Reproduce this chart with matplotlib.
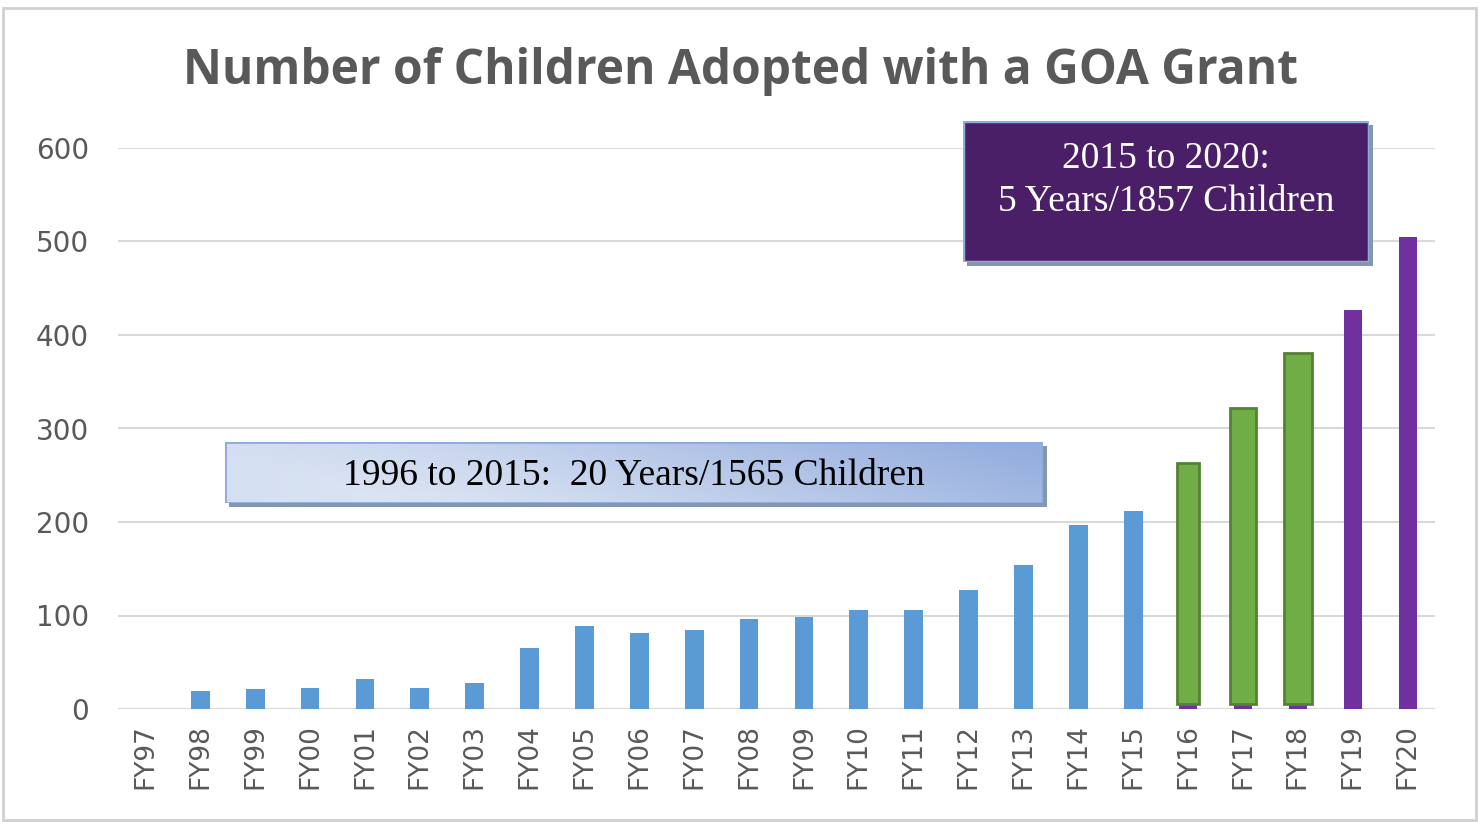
import matplotlib
matplotlib.use("Agg")
import matplotlib.pyplot as plt
import numpy as np
from matplotlib.patches import Rectangle

categories = ["FY97", "FY98", "FY99", "FY00", "FY01", "FY02", "FY03", "FY04",
              "FY05", "FY06", "FY07", "FY08", "FY09", "FY10", "FY11", "FY12",
              "FY13", "FY14", "FY15", "FY16", "FY17", "FY18", "FY19", "FY20"]
blue_values = [0, 19, 21, 22, 32, 22, 28, 65, 89, 81, 84, 96, 98, 106, 106,
               127, 154, 197, 212]
purple_values = [263, 322, 381, 427, 505]
green_values = [263, 322, 381]
green_base = 5
yticks = [0, 100, 200, 300, 400, 500, 600]
title = "Number of Children Adopted with a GOA Grant"
box1_text = "1996 to 2015:  20 Years/1565 Children"
box2_text = "2015 to 2020:\n5 Years/1857 Children"

W, H = 1479, 822
fig = plt.figure(figsize=(W / 100, H / 100), dpi=100)
fig.patch.set_facecolor("white")

# outer border
fig.add_artist(Rectangle((3 / W, 2 / H), (W - 6) / W, (H - 10) / H,
                         transform=fig.transFigure, fill=False,
                         edgecolor="#d0d0d0", linewidth=2))

ax = fig.add_axes([118 / W, (H - 709) / H, (1435 - 118) / W, (709 - 148) / H])
x = np.arange(len(categories))
nb = len(blue_values)
ax.bar(x[:nb], blue_values, width=0.34, color="#5b9bd5", zorder=3)
xp = x[nb:]
ax.bar(xp, purple_values, width=0.33, color="#7030a0", zorder=3)
xg = xp[:len(green_values)]
gw = [0.40, 0.48, 0.52]
ax.bar(xg, np.array(green_values) - green_base, bottom=green_base, width=gw,
       color="#70ad47", edgecolor="#548235", linewidth=2, zorder=4)

ax.set_xlim(-0.5, len(categories) - 0.5)
ax.set_ylim(0, 600)
ax.set_yticks(yticks)
ax.set_yticklabels([str(v) for v in yticks], fontsize=20, color="#595959",
                   family="DejaVu Sans")
ax.set_xticks(x)
ax.set_xticklabels(categories, rotation=90, fontsize=19, color="#595959",
                   family="DejaVu Sans")
ax.tick_params(axis="y", length=0, pad=21)
ax.tick_params(axis="x", length=0, pad=11)
for s in ax.spines.values():
    s.set_visible(False)
ax.grid(axis="y", color="#d9d9d9", linewidth=1.5, zorder=0)
ax.set_axisbelow(True)
ax.axhline(0, color="#d9d9d9", linewidth=1.5, zorder=1)

fig.text(740 / W, 1 - 72 / H, title, ha="center", va="center", fontsize=34.5,
         fontweight="bold", color="#595959", family="Open Sans")


def box_axes(x0, y0, x1, y1, z=5):
    a = fig.add_axes([x0 / W, (H - y1) / H, (x1 - x0) / W, (y1 - y0) / H])
    a.set_xlim(0, 1)
    a.set_ylim(0, 1)
    a.axis("off")
    a.set_zorder(z)
    return a


# box 1 shadow + gradient
sh1 = box_axes(229, 446, 1047, 507, z=5)
sh1.add_patch(Rectangle((0, 0), 1, 1, color="#8497b0"))
b1 = box_axes(225, 442, 1043, 503, z=6)
gx = np.linspace(0, 1, 200)
gy = np.linspace(0, 1, 40)
GX, GY = np.meshgrid(gx, gy)
light = np.array([0.88, 0.91, 0.96])
mid = np.array([0.78, 0.84, 0.94])
dark = np.array([0.58, 0.68, 0.87])
t = np.clip(GX * 1.0 - 0.2 + GY * 0.25, 0, 1)
img = (1 - t)[..., None] * light + t[..., None] * dark
edge = np.clip(0.35 - GX, 0, 0.35)[..., None] / 0.35
img = img * (1 - 0.5 * edge) + mid * 0.5 * edge
b1.imshow(img, extent=[0, 1, 0, 1], aspect="auto", origin="lower")
b1.add_patch(Rectangle((0, 0), 1, 1, fill=False, edgecolor="#8faadc",
                       linewidth=2))
b1.text(0.5, 0.44, box1_text, ha="center", va="center", fontsize=27,
        family="Liberation Serif", color="black")

# box 2
sh2 = box_axes(967, 125, 1373, 266, z=5)
sh2.add_patch(Rectangle((0, 0), 1, 1, color="#8497b0"))
b2 = box_axes(963, 121, 1369, 262, z=6)
b2.add_patch(Rectangle((0, 0), 1, 1, facecolor="#4b1f68", edgecolor="#8faadc",
                       linewidth=2.5))
b2.text(0.5, 0.58, box2_text, ha="center", va="center", fontsize=27,
        family="Liberation Serif", color="white", linespacing=1.3)

fig.savefig("out.png", dpi=100)
